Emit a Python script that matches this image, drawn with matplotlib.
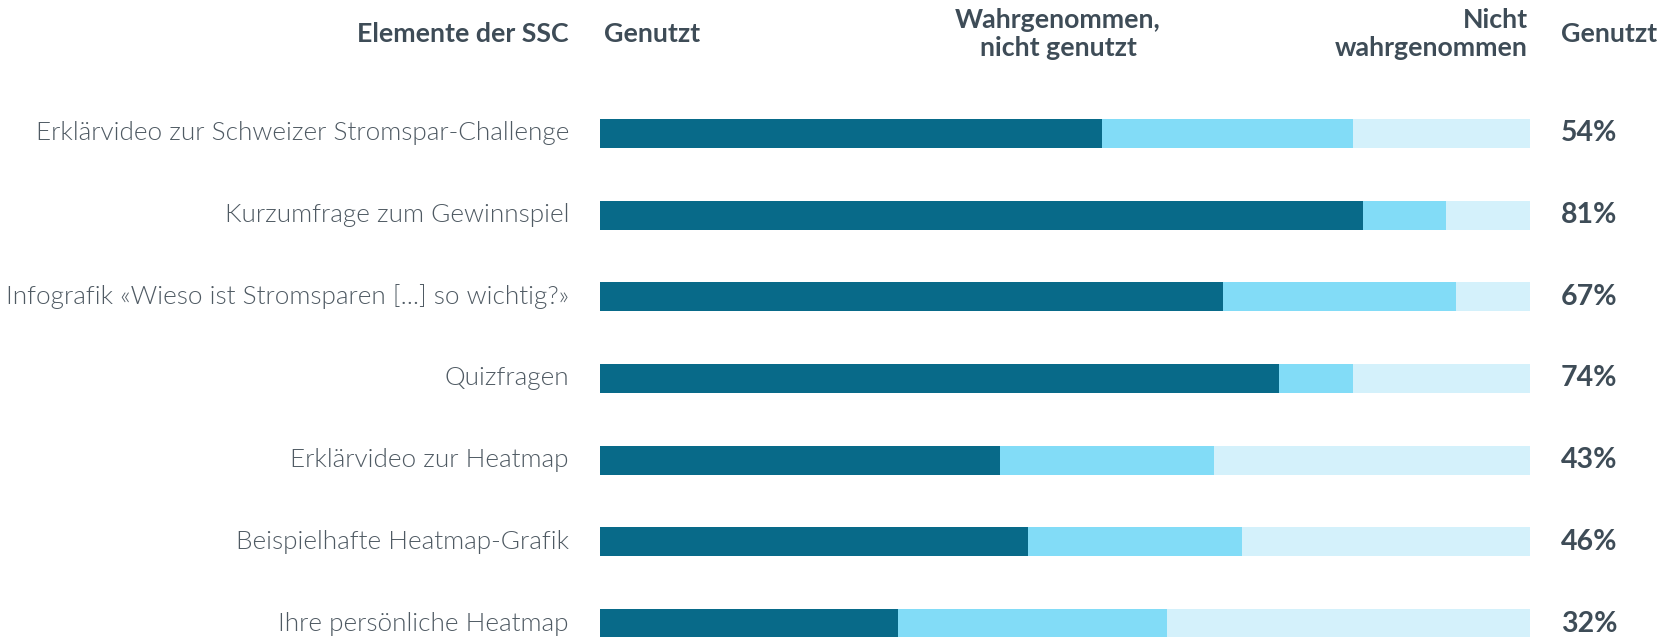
import matplotlib
matplotlib.use("Agg")
import matplotlib.pyplot as plt
from matplotlib import font_manager as fm

categories = [
    "Erklärvideo zur Schweizer Stromspar-Challenge",
    "Kurzumfrage zum Gewinnspiel",
    "Infografik «Wieso ist Stromsparen [...] so wichtig?»",
    "Quizfragen",
    "Erklärvideo zur Heatmap",
    "Beispielhafte Heatmap-Grafik",
    "Ihre persönliche Heatmap",
]
genutzt = [54, 82, 67, 73, 43, 46, 32]
wahrgenommen_nicht_genutzt = [27, 9, 25, 8, 23, 23, 29]
nicht_wahrgenommen = [19, 9, 8, 19, 34, 31, 39]
genutzt_labels = ["54%", "81%", "67%", "74%", "43%", "46%", "32%"]

header_left = "Elemente der SSC"
header_genutzt = "Genutzt"
header_wng = "Wahrgenommen,\nnicht genutzt"
header_nw = "Nicht\nwahrgenommen"
header_right = "Genutzt"

C_DARK = "#086A89"
C_MID = "#82DCF7"
C_LIGHT = "#D4F1FB"
C_TEXT = "#3E4C57"
C_LABEL = "#4F5A63"

# locate font files
def find_font(names):
    files = fm.findSystemFonts()
    for nm in names:
        for f in files:
            base = f.replace("\\", "/").split("/")[-1].lower()
            if base.startswith(nm.lower()):
                return f
    return None

light_file = find_font(["Lato-Light.", "Lato-Light", "Lato Light"])
bold_file = find_font(["Lato-Bold.", "Lato-Bold"])

fs_lab = 18.8
fs_head = 19.3
fs_pct = 20.5

if light_file and "italic" not in light_file.lower():
    fp_light = fm.FontProperties(fname=light_file, size=fs_lab)
else:
    fp_light = fm.FontProperties(family=["Lato", "DejaVu Sans"], weight="normal", size=fs_lab)

def bold_fp(size):
    if bold_file and "italic" not in bold_file.lower():
        return fm.FontProperties(fname=bold_file, size=size)
    return fm.FontProperties(family=["Lato", "DejaVu Sans"], weight="bold", size=size)

W, H = 1674, 637
fig = plt.figure(figsize=(W / 100, H / 100), dpi=100)
fig.patch.set_facecolor("white")

ax_left = 600 / W
ax_w = 930 / W
ax = fig.add_axes([ax_left, 0, ax_w, 1])

y_top_px, y_bot_px = 133.4, 623.5
n = len(categories)
ppu = (y_bot_px - y_top_px) / (n - 1)
ax.set_ylim(n - 1 + (H - y_bot_px) / ppu, -y_top_px / ppu)
ax.set_xlim(0, 100)
ax.axis("off")

ys = list(range(n))
bh = 29 / ppu
left2 = [g for g in genutzt]
left3 = [g + w for g, w in zip(genutzt, wahrgenommen_nicht_genutzt)]
ax.barh(ys, genutzt, height=bh, color=C_DARK, linewidth=0)
ax.barh(ys, wahrgenommen_nicht_genutzt, left=left2, height=bh, color=C_MID, linewidth=0)
ax.barh(ys, nicht_wahrgenommen, left=left3, height=bh, color=C_LIGHT, linewidth=0)

def fy(py):
    return 1 - py / H

def fx(px):
    return px / W

for y, cat, lab in zip(ys, categories, genutzt_labels):
    py = y_top_px + y * ppu
    fig.text(fx(569), fy(py), cat, ha="right", va="center",
             fontproperties=fp_light, color=C_LABEL)
    fig.text(fx(1561), fy(py), lab, ha="left", va="center",
             fontproperties=bold_fp(fs_pct), color=C_TEXT)

fph = bold_fp(fs_head)
fig.text(fx(569), fy(34), header_left, ha="right", va="center",
         fontproperties=fph, color=C_TEXT)
fig.text(fx(604), fy(34), header_genutzt, ha="left", va="center",
         fontproperties=fph, color=C_TEXT)
fig.text(fx(1058), fy(34), header_wng, ha="center", va="center",
         fontproperties=fph, color=C_TEXT, linespacing=1.15)
fig.text(fx(1528), fy(34), header_nw, ha="right", va="center",
         fontproperties=fph, color=C_TEXT, linespacing=1.15,
         multialignment="right")
fig.text(fx(1561), fy(34), header_right, ha="left", va="center",
         fontproperties=fph, color=C_TEXT)

fig.savefig("out.png", dpi=100, facecolor="white")
